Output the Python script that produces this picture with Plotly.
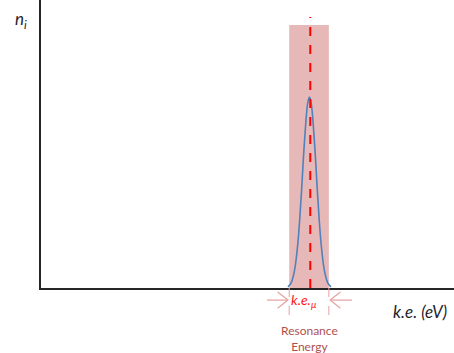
import plotly.graph_objects as go

# ---- data (arbitrary energy units) ----
curve_x = [5.98, 6.06, 6.14, 6.22, 6.30, 6.38, 6.46, 6.50, 6.54, 6.62, 6.70, 6.78, 6.86, 6.94, 7.02]
curve_y = [0.004, 0.019, 0.062, 0.157, 0.318, 0.509, 0.644, 0.663, 0.644, 0.509, 0.318, 0.157, 0.062, 0.019, 0.004]
resonance_energy = 6.52
window_lo = 6.01
window_hi = 6.97
window_top = 0.913
line_top = 0.941
x_range = [0, 10]
y_range = [0, 1]

fig = go.Figure()

# shaded resonance window
fig.add_shape(type="rect", xref="x", yref="y", x0=window_lo, x1=window_hi, y0=0, y1=window_top,
              fillcolor="rgb(230,185,184)", line=dict(width=0), layer="below")

# distribution curve
fig.add_trace(go.Scatter(x=curve_x, y=curve_y, mode="lines",
                         line=dict(color="#4f81bd", width=1.6, shape="spline"),
                         hoverinfo="skip", showlegend=False))

# resonance line
fig.add_shape(type="line", xref="x", yref="y", x0=resonance_energy, x1=resonance_energy, y0=0, y1=line_top,
              line=dict(color="#ff0000", width=2, dash="dash"))

# pink dashed lines below axis (window edges)
for xe in (window_lo, window_hi):
    fig.add_shape(type="line", xref="x", yref="paper", x0=xe, x1=xe, y0=0, y1=-0.104,
                  line=dict(color="#e8a0a0", width=1, dash="dash"))

# arrows (shaft + open chevron head)
arrow_y = -0.042
head_len = 0.25
head_h = 0.028
arrow_col = "#e8a0a0"
# left arrow pointing right to window_lo
lt, lh = 5.47, window_lo - 0.03
fig.add_shape(type="line", xref="x", yref="paper", x0=lt, x1=lh, y0=arrow_y, y1=arrow_y,
              line=dict(color=arrow_col, width=1.2))
fig.add_shape(type="path", xref="x", yref="paper",
              path=f"M {lh-head_len},{arrow_y+head_h} L {lh},{arrow_y} L {lh-head_len},{arrow_y-head_h}",
              line=dict(color=arrow_col, width=1.2))
# right arrow pointing left to window_hi
rt, rh = 7.53, window_hi + 0.03
fig.add_shape(type="line", xref="x", yref="paper", x0=rt, x1=rh, y0=arrow_y, y1=arrow_y,
              line=dict(color=arrow_col, width=1.2))
fig.add_shape(type="path", xref="x", yref="paper",
              path=f"M {rh+head_len},{arrow_y+head_h} L {rh},{arrow_y} L {rh+head_len},{arrow_y-head_h}",
              line=dict(color=arrow_col, width=1.2))

font_family = "Lato, Open Sans, sans-serif"
fig.add_annotation(x=6.38, y=-0.045, xref="x", yref="paper", xanchor="center", yanchor="middle",
                   text="<i>k.e.</i><sub><i>μ</i></sub>", showarrow=False,
                   font=dict(family=font_family, size=14, color="#ff1a1a"))
fig.add_annotation(x=6.49, y=-0.174, xref="x", yref="paper", xanchor="center", yanchor="middle",
                   text="Resonance<br>Energy", showarrow=False,
                   font=dict(family=font_family, size=12, color="#b0504d"))
fig.add_annotation(x=0.918, y=-0.08, xref="paper", yref="paper",
                   text="<i>k.e. (eV)</i>", showarrow=False, xanchor="center", yanchor="middle",
                   font=dict(family=font_family, size=17, color="#1f1f2f"))
fig.add_annotation(x=-0.048, y=0.93, xref="paper", yref="paper", xanchor="center", yanchor="middle",
                   text="<i>n</i><sub><i>i</i></sub>", showarrow=False,
                   font=dict(family=font_family, size=17, color="#1f1f2f"))

fig.update_xaxes(range=x_range, showline=True, linecolor="#262626", linewidth=2,
                 showgrid=False, zeroline=False, showticklabels=False, ticks="", mirror=False)
fig.update_yaxes(range=y_range, showline=True, linecolor="#262626", linewidth=2,
                 showgrid=False, zeroline=False, showticklabels=False, ticks="", mirror=False)
fig.update_layout(width=454, height=353, margin=dict(l=41, r=0, t=0, b=65),
                  plot_bgcolor="white", paper_bgcolor="white", showlegend=False)

fig.write_html("out.html", config={"displayModeBar": False},
               post_script="document.body.style.margin='0';")
